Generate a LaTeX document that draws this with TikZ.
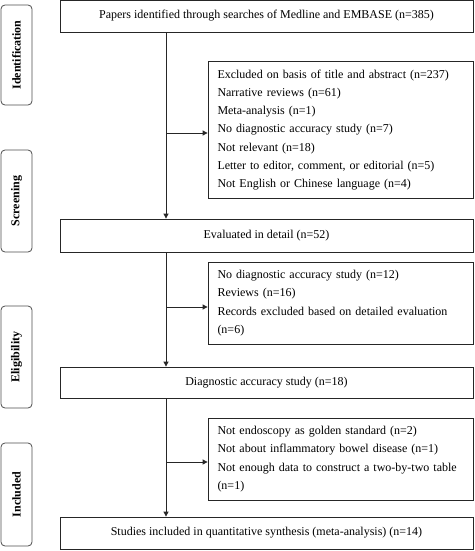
\documentclass[tikz,border=0pt]{standalone}
\usepackage{fontspec}
\setmainfont{Liberation Serif}
\usetikzlibrary{arrows.meta}
\begin{document}
\begin{tikzpicture}[x=1pt,y=-1pt,
  mainbox/.style={draw=black!85,line width=0.8pt,minimum width=413pt,inner sep=0pt,font=\fontsize{12}{14}\selectfont},
  exclbox/.style={draw=black!85,line width=0.8pt,minimum width=265pt,text width=246pt,inner xsep=9.5pt,inner ysep=0pt,align=left,font=\fontsize{12}{18.3}\selectfont},
  stagebox/.style={draw=black!70,line width=0.8pt,rounded corners=4pt,minimum width=31pt,inner sep=0pt},
  stagetext/.style={rotate=90,font=\fontsize{12}{14}\selectfont\bfseries},
  flow/.style={draw=black!85,line width=0.8pt},
  flowarrow/.style={flow,-{Triangle[length=5pt,width=5pt]}}
]
\useasboundingbox (0,0) rectangle (474,551);
% stage labels
\node[stagebox,minimum height=100pt] (sid) at (16.5,55) {};
\node[stagetext] (tid) at (sid.center) {Identification};
\node[stagebox,minimum height=102pt] (ssc) at (16.5,201) {};
\node[stagetext] (tsc) at (ssc.center) {Screening};
\node[stagebox,minimum height=102pt] (sel) at (16.5,357) {};
\node[stagetext] (tel) at (sel.center) {Eligibility};
\node[stagebox,minimum height=103pt] (sin) at (16.5,494.5) {};
\node[stagetext] (tin) at (sin.center) {Included};
% main boxes
\node[mainbox,minimum height=32pt] (b1) at (266.5,16) {Papers identified through searches of Medline and EMBASE (n=385)};
\node[mainbox,minimum height=33pt] (b2) at (266.5,235.5) {Evaluated in detail (n=52)};
\node[mainbox,minimum height=31pt] (b3) at (266.5,382.5) {Diagnostic accuracy study (n=18)};
\node[mainbox,minimum height=32pt] (b4) at (266.5,533) {Studies included in quantitative synthesis (meta-analysis) (n=14)};
% exclusion boxes
\node[exclbox,minimum height=137pt] (e1) at (340.5,130) {Excluded on basis of title and abstract (n=237)\\
Narrative reviews (n=61)\\
Meta-analysis (n=1)\\
No diagnostic accuracy study (n=7)\\
Not relevant (n=18)\\
Letter to editor, comment, or editorial (n=5)\\
Not English or Chinese language (n=4)};
\node[exclbox,minimum height=82pt] (e2) at (340.5,303) {No diagnostic accuracy study (n=12)\\
Reviews (n=16)\\
\makebox[\linewidth][s]{Records excluded based on detailed evaluation}\\
(n=6)};
\node[exclbox,minimum height=82pt] (e3) at (340.5,459) {Not endoscopy as golden standard (n=2)\\
Not about inflammatory bowel disease (n=1)\\
\makebox[\linewidth][s]{Not enough data to construct a two-by-two table}\\
(n=1)};
% connector coordinates
\coordinate (j1) at (166,133);
\coordinate (j2) at (166,307);
\coordinate (j3) at (166,462);
% vertical flow
\draw[flowarrow] (b1.south -| j1) -- (b2.north -| j1);
\draw[flowarrow] (b2.south -| j2) -- (b3.north -| j2);
\draw[flowarrow] (b3.south -| j3) -- (b4.north -| j3);
% branches
\draw[flowarrow] (j1) -- (j1 -| e1.west);
\draw[flowarrow] (j2) -- (j2 -| e2.west);
\draw[flowarrow] (j3) -- (j3 -| e3.west);
\end{tikzpicture}
\end{document}
